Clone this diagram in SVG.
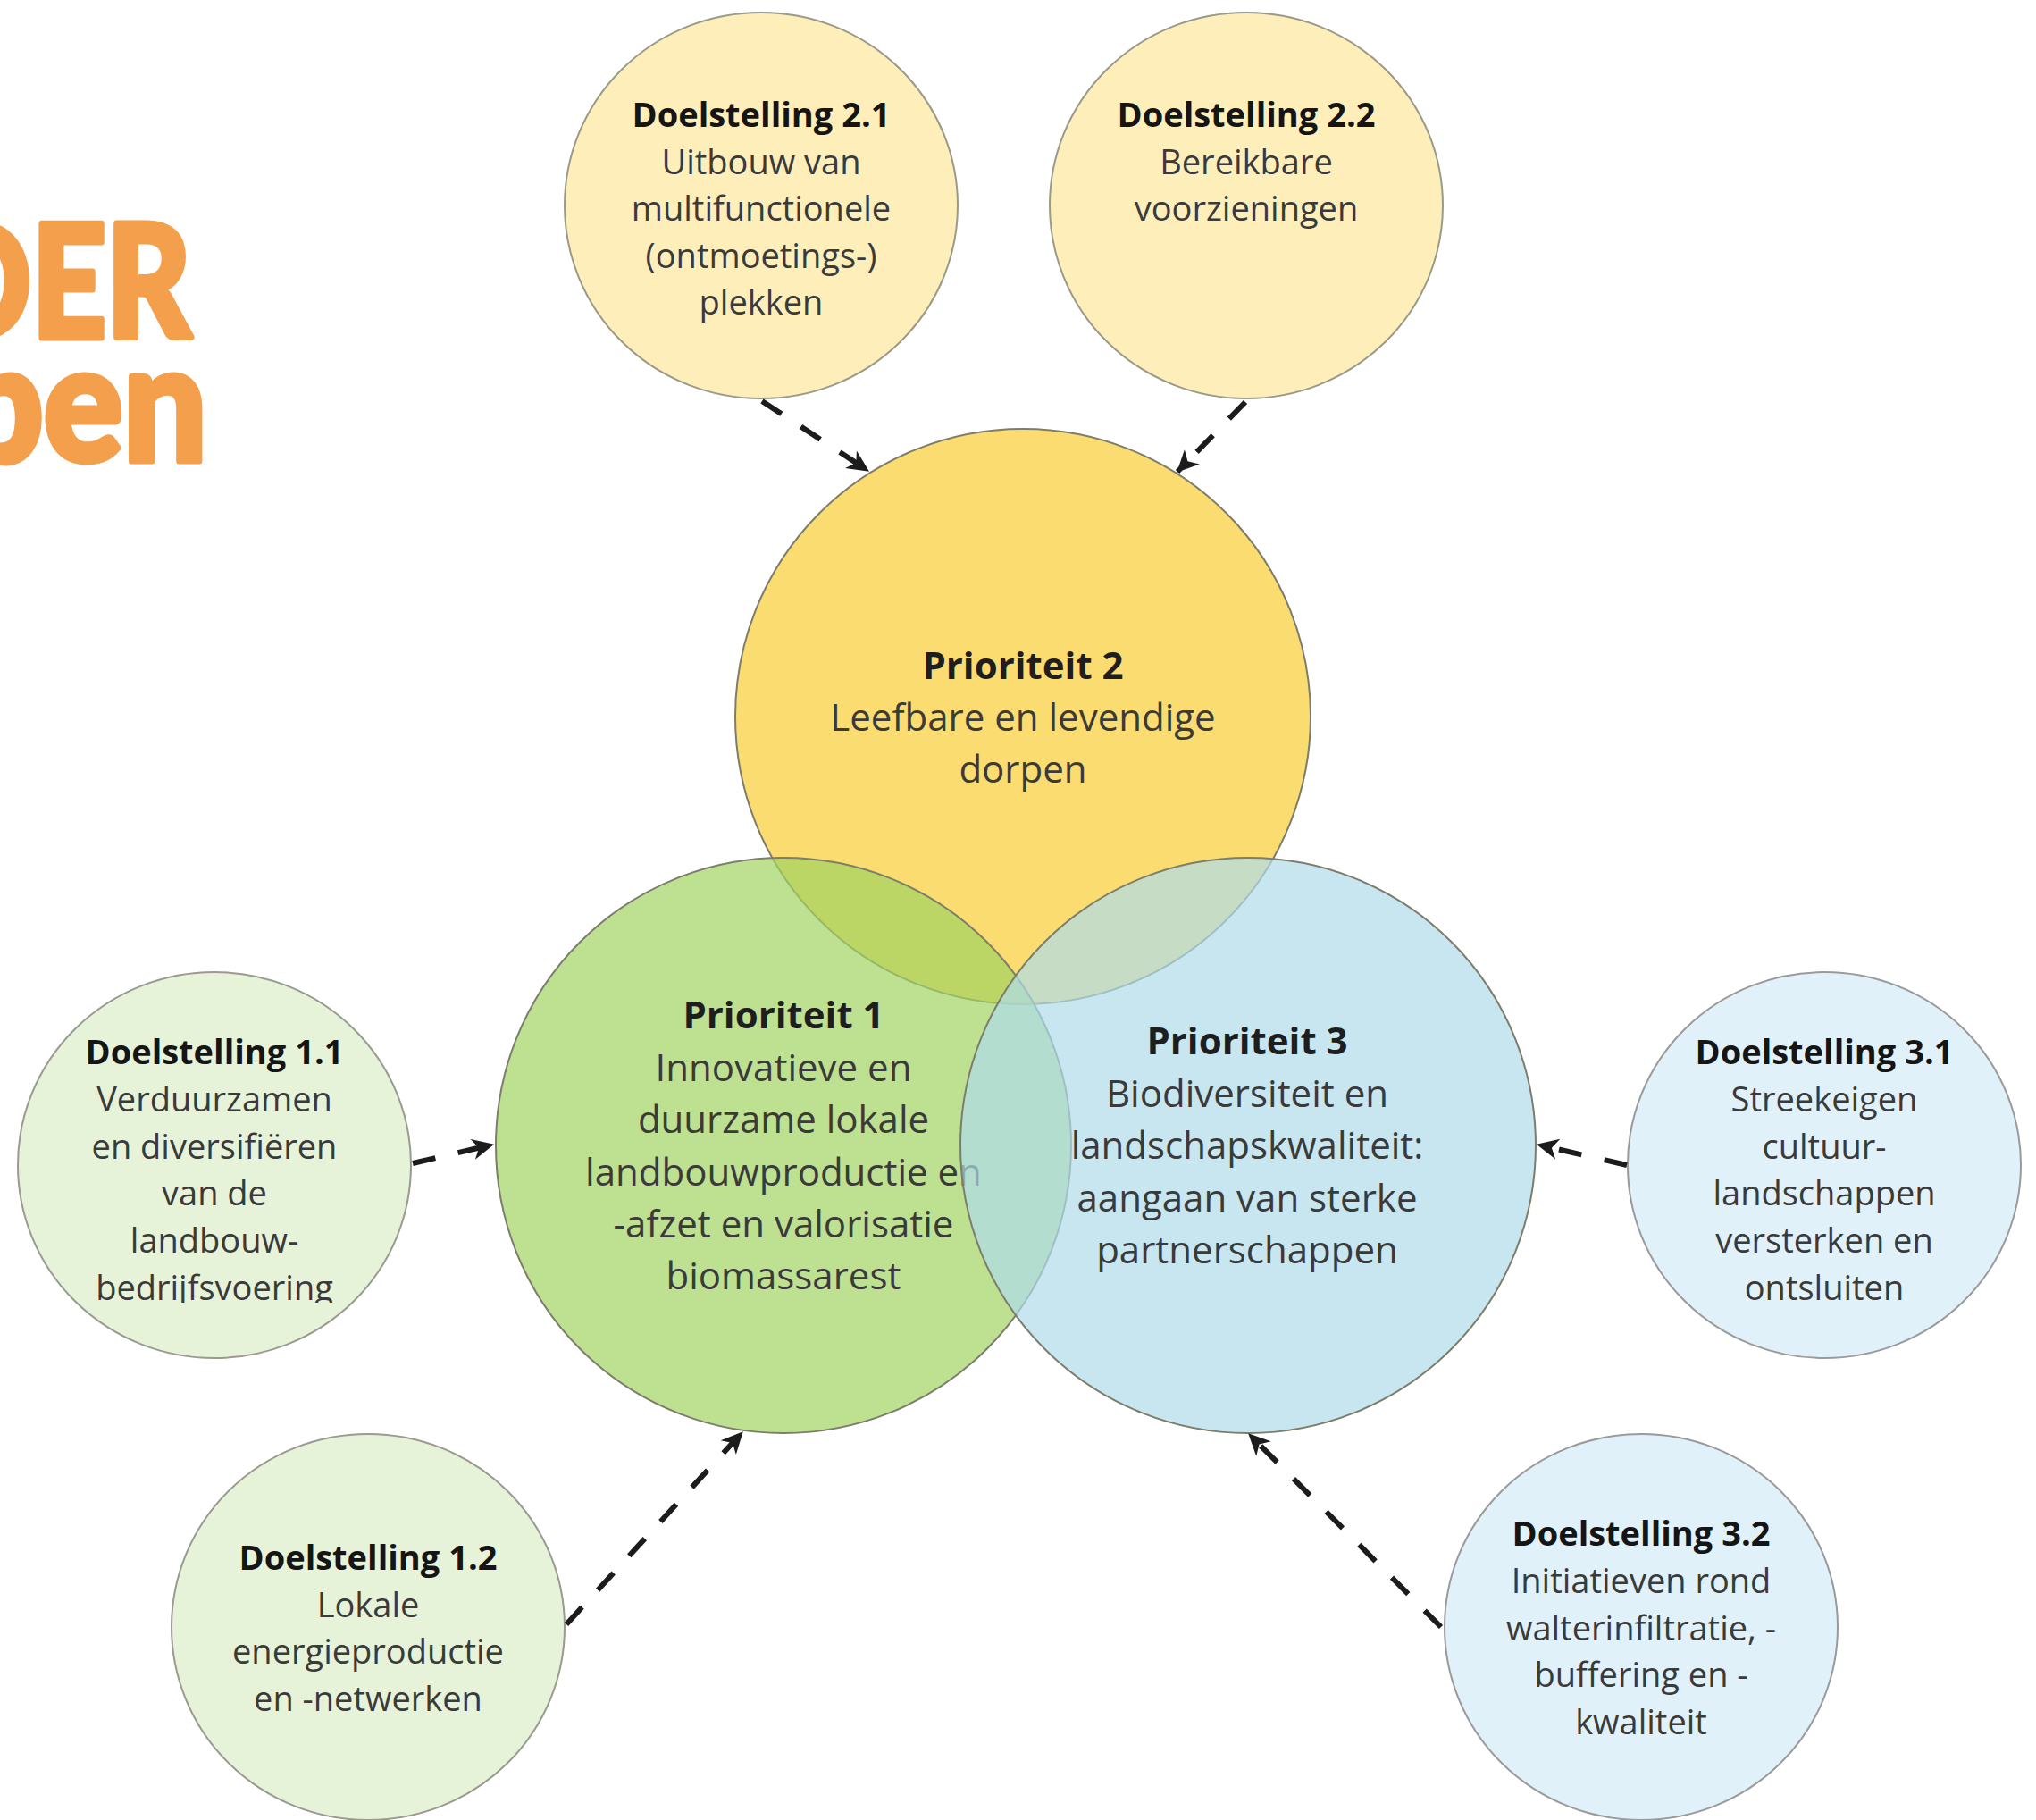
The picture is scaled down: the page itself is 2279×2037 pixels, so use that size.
<svg xmlns="http://www.w3.org/2000/svg" width="2279" height="2037" viewBox="0 0 2279 2037">
<style>
text{font-family:"Open Sans","Noto Sans","DejaVu Sans",sans-serif;text-anchor:middle}
.sb{font-size:38px;font-weight:700;fill:#151515}
.sr{font-size:38px;font-weight:400;fill:#3a3a3a}
.pb{font-size:42px;font-weight:700;fill:#1e1e1e}
.pr{font-size:42px;font-weight:400;fill:#3a3a3a}
.title{font-family:Lato,"Open Sans",sans-serif;font-weight:900;fill:#F39F4C;stroke:#F39F4C;stroke-width:7;stroke-linejoin:round;text-anchor:start}
.d2{fill:#FDEEBA;stroke:#9a9a88;stroke-width:2}
.d1{fill:#E6F3D8;stroke:#9a9a90;stroke-width:2}
.d3{fill:#E0F1F9;stroke:#9a9a9a;stroke-width:2}
.big{stroke:#7d7d6c;stroke-width:2}
.conn{fill:none;stroke:#1c1c1c;stroke-width:6;stroke-dasharray:26 26;marker-end:url(#ah)}
</style>
<defs>
<marker id="ah" viewBox="0 0 24 24" refX="22" refY="12" markerWidth="28" markerHeight="28" markerUnits="userSpaceOnUse" orient="auto">
<path d="M2,2 L23,12 L2,22 L8,12 Z" fill="#1c1c1c"/>
</marker>
<clipPath id="clipD11"><rect x="0" y="1380" width="500" height="78"/></clipPath>
</defs>
<rect width="2279" height="2037" fill="#ffffff"/>

<g id="title">
<text class="title" x="-76" y="378" font-size="176" textLength="290" lengthAdjust="spacingAndGlyphs">DER</text>
<text class="title" x="-46" y="516" font-size="184" textLength="278" lengthAdjust="spacingAndGlyphs">pen</text>
</g>

<g id="prioriteit2">
<circle class="big" cx="1145" cy="802" r="322" fill="#FBDC70"/>
<text class="pb" x="1145" y="760">Prioriteit 2</text>
<text class="pr" x="1145" y="818">Leefbare en levendige</text>
<text class="pr" x="1145" y="876">dorpen</text>
</g>

<g id="prioriteit1">
<circle class="big" cx="877" cy="1282" r="322" fill="#A1D362" fill-opacity="0.7"/>
<text class="pb" x="877" y="1151">Prioriteit 1</text>
<text class="pr" x="877" y="1210">Innovatieve en</text>
<text class="pr" x="877" y="1268">duurzame lokale</text>
<text class="pr" x="877" y="1327">landbouwproductie en</text>
<text class="pr" x="877" y="1385">-afzet en valorisatie</text>
<text class="pr" x="877" y="1443">biomassarest</text>
</g>

<g id="prioriteit3">
<circle class="big" cx="1397" cy="1282" r="322" fill="#AFDBEA" fill-opacity="0.7"/>
<text class="pb" x="1396" y="1180">Prioriteit 3</text>
<text class="pr" x="1396" y="1239">Biodiversiteit en</text>
<text class="pr" x="1396" y="1297">landschapskwaliteit:</text>
<text class="pr" x="1396" y="1356">aangaan van sterke</text>
<text class="pr" x="1396" y="1414">partnerschappen</text>
</g>

<g id="doelstelling21">
<ellipse class="d2" cx="852" cy="230" rx="220" ry="216"/>
<text class="sb" x="852" y="142">Doelstelling 2.1</text>
<text class="sr" x="852" y="194.5">Uitbouw van</text>
<text class="sr" x="852" y="247">multifunctionele</text>
<text class="sr" x="852" y="299.5">(ontmoetings-)</text>
<text class="sr" x="852" y="352">plekken</text>
</g>

<g id="doelstelling22">
<ellipse class="d2" cx="1395" cy="230" rx="220" ry="216"/>
<text class="sb" x="1395" y="142">Doelstelling 2.2</text>
<text class="sr" x="1395" y="194.5">Bereikbare</text>
<text class="sr" x="1395" y="247">voorzieningen</text>
</g>

<g id="doelstelling11">
<ellipse class="d1" cx="240" cy="1304" rx="220" ry="216"/>
<text class="sb" x="240" y="1191">Doelstelling 1.1</text>
<text class="sr" x="240" y="1244">Verduurzamen</text>
<text class="sr" x="240" y="1297">en diversifiëren</text>
<text class="sr" x="240" y="1349">van de</text>
<text class="sr" x="240" y="1402">landbouw-</text>
<text class="sr" x="240" y="1455" clip-path="url(#clipD11)">bedrijfsvoering</text>
</g>

<g id="doelstelling12">
<ellipse class="d1" cx="412" cy="1821" rx="220" ry="216"/>
<text class="sb" x="412" y="1757">Doelstelling 1.2</text>
<text class="sr" x="412" y="1810">Lokale</text>
<text class="sr" x="412" y="1862">energieproductie</text>
<text class="sr" x="412" y="1915">en -netwerken</text>
</g>

<g id="doelstelling31">
<ellipse class="d3" cx="2042" cy="1304" rx="220" ry="216"/>
<text class="sb" x="2042" y="1191">Doelstelling 3.1</text>
<text class="sr" x="2042" y="1244">Streekeigen</text>
<text class="sr" x="2042" y="1297">cultuur-</text>
<text class="sr" x="2042" y="1349">landschappen</text>
<text class="sr" x="2042" y="1402">versterken en</text>
<text class="sr" x="2042" y="1455">ontsluiten</text>
</g>

<g id="doelstelling32">
<ellipse class="d3" cx="1837" cy="1821" rx="220" ry="216"/>
<text class="sb" x="1837" y="1730">Doelstelling 3.2</text>
<text class="sr" x="1837" y="1783">Initiatieven rond</text>
<text class="sr" x="1837" y="1836">walterinfiltratie, -</text>
<text class="sr" x="1837" y="1888">buffering en -</text>
<text class="sr" x="1837" y="1941">kwaliteit</text>
</g>

<g id="connectors">
<path class="conn" d="M853,449 L972,527"/>
<path class="conn" d="M1394,450 L1318,528"/>
<path class="conn" d="M462,1302 L552,1281"/>
<path class="conn" d="M634,1818 L831,1603"/>
<path class="conn" d="M1821,1304 L1721,1281"/>
<path class="conn" d="M1613,1821 L1398,1605"/>
</g>
</svg>
